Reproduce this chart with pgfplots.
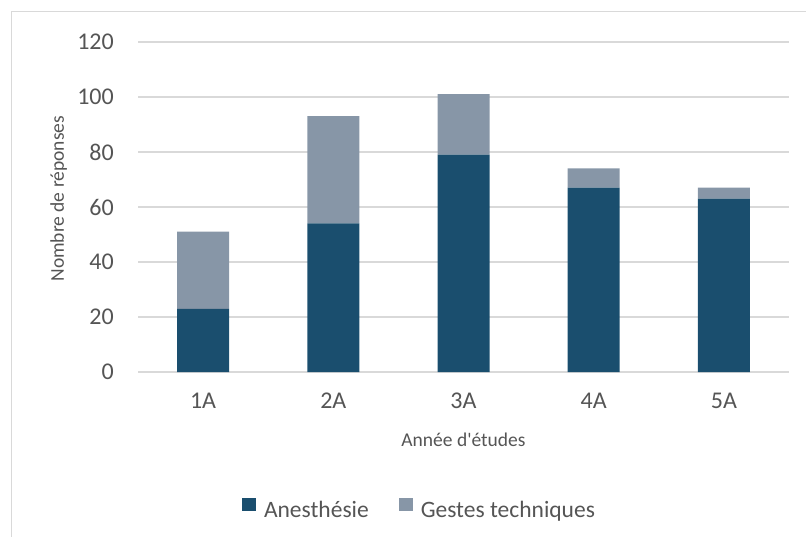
\documentclass[border=0pt]{standalone}
\usepackage{fontspec}
\setmainfont{Carlito}[Ligatures=TeXOff]
\usepackage{pgfplots}
\usepackage{pgfplotstable}
\pgfplotsset{compat=1.18}

\definecolor{anes}{HTML}{1A4E6E}
\definecolor{gestes}{HTML}{8796A7}
\definecolor{grille}{HTML}{D9D9D9}
\definecolor{texte}{HTML}{555555}

% annee: 1A..5A plotted at 1..5
\pgfplotstableread{
annee anes gestes
1 23 28
2 54 39
3 79 22
4 67 7
5 63 4
}\donnees

\begin{document}
\begin{tikzpicture}[x=1pt,y=1pt]
\begin{axis}[
    at={(138pt,164pt)}, anchor=south west,
    scale only axis, width=651pt, height=330pt,
    ybar stacked, bar width=52pt,
    xmin=0.5, xmax=5.5, ymin=0, ymax=120,
    xtick={1,...,5}, xticklabels={1A,2A,3A,4A,5A},
    ytick={0,20,...,120},
    axis line style={draw=none},
    major tick length=0pt,
    ymajorgrids,
    grid style={grille, line width=1.3pt},
    /pgf/number format/assume math mode=true,
    every tick label/.append style={font=\fontsize{24}{28}\selectfont, text=texte},
    yticklabel style={anchor=east, inner sep=0pt, xshift=-24pt},
    xticklabel style={anchor=base, inner sep=0pt, yshift=-36pt},
    label style={font=\fontsize{19.5}{24}\selectfont, text=texte},
    xlabel={Année d'études},
    xlabel style={at={(axis description cs:0.5,0)}, anchor=base, inner sep=0pt, yshift=-74pt},
    ylabel={Nombre de réponses},
    ylabel style={at={(axis description cs:-0.122,0.525)}, anchor=center, inner sep=0pt},
    legend columns=2,
    legend image code/.code={\fill[#1] (0pt,-1pt) rectangle (14pt,12pt);},
    legend style={at={(axis description cs:0.1598,-0.415)}, anchor=west,
        draw=none, fill=none, inner sep=0pt, outer sep=0pt,
        font=\fontsize{23.5}{28}\selectfont, text=texte,
        nodes={inner sep=0pt},
        /tikz/every odd column/.append style={column sep=8pt},
        /tikz/every even column/.append style={column sep=30pt}},
]
\addplot[fill=anes, draw=none] table[x=annee, y=anes] {\donnees};
\addlegendentry{Anesthésie}
\addplot[fill=gestes, draw=none] table[x=annee, y=gestes] {\donnees};
\addlegendentry{Gestes techniques}
\end{axis}
\draw[grille, line width=1pt] (11,-60) -- (11,524) -- (900,524);
\pgfresetboundingbox
\path[use as bounding box] (0,0) rectangle (806,536);
\end{tikzpicture}
\end{document}
